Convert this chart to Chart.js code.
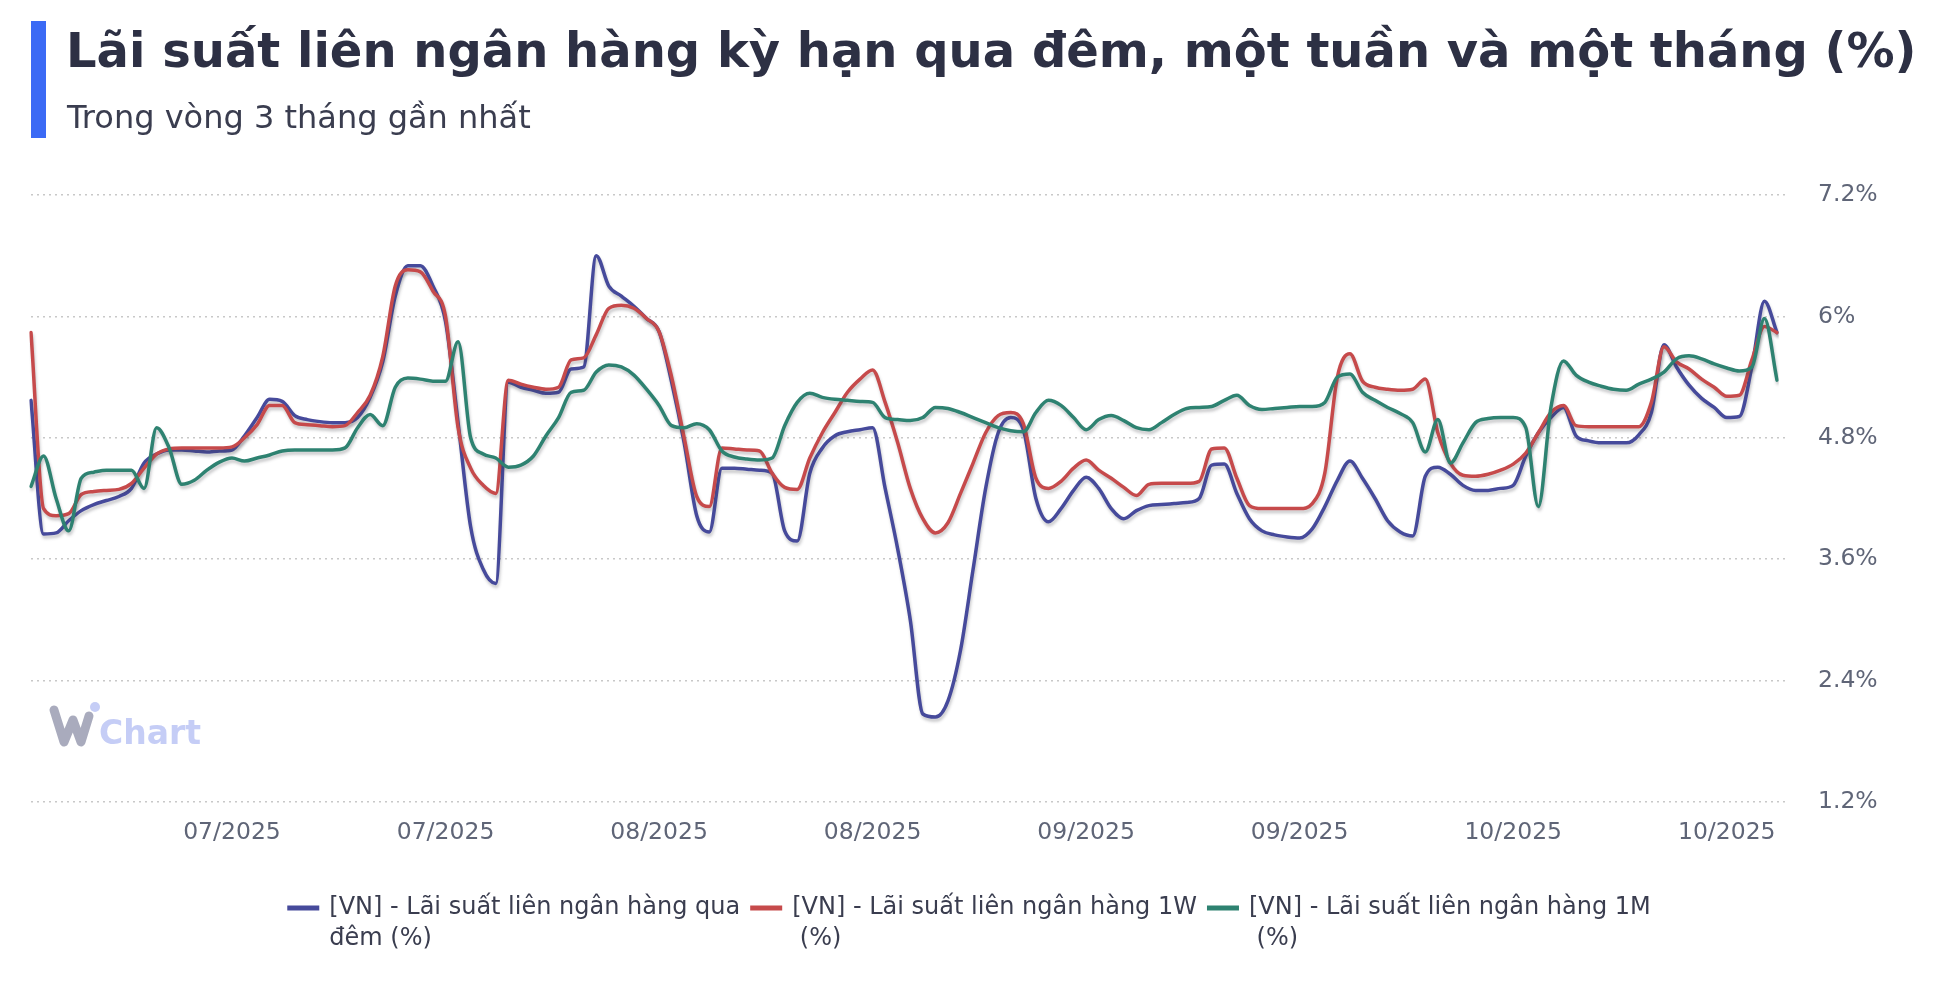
<!DOCTYPE html>
<html>
<head>
  <meta charset="utf-8">
  <title>Lãi suất liên ngân hàng</title>
  <script src="https://cdn.jsdelivr.net/npm/chart.js@4"></script>
  <style>
    body {
      margin: 0;
      background: #fff;
      font-family: 'DejaVu Sans', sans-serif;
    }
    #wrap { position: relative; width: 1944px; height: 997px; }
    #bar { position: absolute; left: 31px; top: 21px; width: 15px; height: 117px; background: #3b6af5; }
    #title {
      position: absolute; left: 66px; top: 22px;
      font-size: 48px; line-height: 56px; font-weight: bold;
      color: #2d3044; white-space: nowrap;
    }
    #subtitle {
      position: absolute; left: 67px; top: 99px;
      font-size: 32px; line-height: 36px;
      color: #3a3d4f; white-space: nowrap;
    }
    canvas { position: absolute; left: 0; top: 0; }
  </style>
</head>
<body>
<div id="wrap">
  <canvas id="chart" width="1944" height="997"></canvas>
  <div id="bar"></div>
  <div id="title">Lãi suất liên ngân hàng kỳ hạn qua đêm, một tuần và một tháng (%)</div>
  <div id="subtitle">Trong vòng 3 tháng gần nhất</div>
</div>

<script>
  // values (%)
  const overnight = [
    5.17, 3.85, 3.86, 3.98, 4.08, 4.14, 4.18, 4.22, 4.30, 4.55,
    4.64, 4.68, 4.68, 4.67, 4.66, 4.67, 4.68, 4.82, 5.00, 5.18,
    5.16, 5.02, 4.98, 4.96, 4.95, 4.95, 5.00, 5.20, 5.55, 6.20,
    6.50, 6.50, 6.30, 5.95, 4.95, 3.92, 3.50, 3.36, 5.35, 5.30,
    5.27, 5.24, 5.25, 5.48, 5.50, 6.60, 6.30, 6.20, 6.10, 5.98,
    5.85, 5.35, 4.75, 4.03, 3.87, 4.50, 4.50, 4.49, 4.48, 4.45,
    3.88, 3.78, 4.45, 4.70, 4.82, 4.86, 4.88, 4.90, 4.30, 3.70,
    3.00, 2.07, 2.04, 2.20, 2.70, 3.50, 4.30, 4.85, 5.00, 4.88,
    4.20, 3.97, 4.10, 4.28, 4.41, 4.30, 4.10, 4.00, 4.08, 4.13,
    4.14, 4.15, 4.16, 4.20, 4.53, 4.54, 4.25, 4.00, 3.88, 3.84,
    3.82, 3.81, 3.90, 4.12, 4.38, 4.57, 4.40, 4.20, 3.98, 3.87,
    3.83, 4.42, 4.51, 4.44, 4.33, 4.28, 4.28, 4.30, 4.33, 4.62,
    4.85, 5.00, 5.10, 4.82, 4.77, 4.75, 4.75, 4.75, 4.83, 5.05,
    5.72, 5.50, 5.32, 5.19, 5.10, 5.00, 5.01, 5.50, 6.15, 5.84
  ];
  const oneWeek = [
    5.84, 4.10, 4.03, 4.05, 4.24, 4.27, 4.28, 4.29, 4.35, 4.50,
    4.64, 4.69, 4.70, 4.70, 4.70, 4.70, 4.71, 4.80, 4.93, 5.12,
    5.12, 4.95, 4.93, 4.92, 4.91, 4.92, 5.05, 5.22, 5.60, 6.30,
    6.46, 6.44, 6.25, 6.00, 4.90, 4.50, 4.33, 4.25, 5.37, 5.33,
    5.30, 5.28, 5.30, 5.57, 5.59, 5.82, 6.08, 6.11, 6.08, 5.98,
    5.85, 5.40, 4.80, 4.22, 4.12, 4.70, 4.69, 4.68, 4.67, 4.45,
    4.31, 4.29, 4.60, 4.85, 5.05, 5.25, 5.38, 5.47, 5.15, 4.75,
    4.30, 4.00, 3.86, 3.96, 4.25, 4.55, 4.85, 5.02, 5.05, 4.94,
    4.40, 4.30, 4.37, 4.50, 4.58, 4.48, 4.40, 4.31, 4.23, 4.34,
    4.35, 4.35, 4.35, 4.37, 4.69, 4.70, 4.40, 4.13, 4.10, 4.10,
    4.10, 4.10, 4.15, 4.45, 5.40, 5.63, 5.36, 5.30, 5.28, 5.27,
    5.28, 5.38, 4.85, 4.55, 4.43, 4.42, 4.44, 4.48, 4.54, 4.65,
    4.85, 5.05, 5.12, 4.92, 4.91, 4.91, 4.91, 4.91, 4.91, 5.15,
    5.70, 5.55, 5.48, 5.38, 5.30, 5.21, 5.22, 5.57, 5.90, 5.84
  ];
  const oneMonth = [
    4.32, 4.62, 4.20, 3.88, 4.40, 4.46, 4.48, 4.48, 4.48, 4.30,
    4.90, 4.70, 4.34, 4.38, 4.48, 4.56, 4.60, 4.57, 4.60, 4.63,
    4.67, 4.68, 4.68, 4.68, 4.68, 4.70, 4.90, 5.03, 4.92, 5.30,
    5.39, 5.38, 5.36, 5.36, 5.75, 4.80, 4.64, 4.60, 4.51, 4.53,
    4.62, 4.82, 5.00, 5.25, 5.27, 5.45, 5.52, 5.50, 5.42, 5.28,
    5.12, 4.92, 4.90, 4.94, 4.88, 4.67, 4.61, 4.59, 4.58, 4.60,
    4.92, 5.15, 5.24, 5.20, 5.18, 5.17, 5.16, 5.15, 5.00, 4.98,
    4.97, 5.00, 5.10, 5.09, 5.05, 5.00, 4.95, 4.90, 4.87, 4.86,
    5.05, 5.17, 5.12, 5.00, 4.88, 4.98, 5.02, 4.97, 4.90, 4.88,
    4.95, 5.03, 5.09, 5.10, 5.11, 5.17, 5.22, 5.12, 5.08, 5.09,
    5.10, 5.11, 5.11, 5.15, 5.40, 5.43, 5.25, 5.17, 5.10, 5.04,
    4.95, 4.66, 4.98, 4.55, 4.75, 4.95, 4.99, 5.00, 5.00, 4.90,
    4.12, 5.10, 5.56, 5.42, 5.35, 5.31, 5.28, 5.27, 5.33, 5.38,
    5.45, 5.58, 5.61, 5.58, 5.53, 5.49, 5.46, 5.50, 5.98, 5.37
  ];
  const tickLabels = ['07/2025', '07/2025', '08/2025', '08/2025', '09/2025', '09/2025', '10/2025', '10/2025'];
  const firstTick = 16, tickStep = 17;
  const seriesNames = [
    ['[VN] - Lãi suất liên ngân hàng qua', 'đêm (%)'],
    ['[VN] - Lãi suất liên ngân hàng 1W', ' (%)'],
    ['[VN] - Lãi suất liên ngân hàng 1M', ' (%)']
  ];
  const colors = ['#464a9b', '#c64a4b', '#2e8271'];

  const pointIndex = overnight.map((_, i) => i);

  const lineShadow = {
    id: 'lineShadow',
    beforeDatasetsDraw(chart) {
      const c = chart.ctx;
      c.save();
      c.shadowColor = 'rgba(60,60,70,0.28)';
      c.shadowBlur = 3;
      c.shadowOffsetX = 1;
      c.shadowOffsetY = 3;
    },
    afterDatasetsDraw(chart) {
      chart.ctx.restore();
    }
  };

  const watermark = {
    id: 'watermark',
    beforeDraw(chart) {
      const c = chart.ctx;
      c.save();
      c.strokeStyle = '#a9abbd';
      c.lineWidth = 9;
      c.lineCap = 'round';
      c.lineJoin = 'round';
      c.beginPath();
      c.moveTo(54, 710); c.lineTo(64, 742); c.lineTo(73, 720); c.lineTo(81, 742); c.lineTo(89, 716);
      c.stroke();
      c.fillStyle = '#c5cdf6';
      c.beginPath(); c.arc(95, 707, 5, 0, Math.PI * 2); c.fill();
      c.font = 'bold 33px "DejaVu Sans"';
      c.fillText('Chart', 99, 744);
      c.restore();
    }
  };

  // legend with wrapped labels, drawn under the x axis
  const wrapLegend = {
    id: 'wrapLegend',
    afterDraw(chart) {
      const c = chart.ctx;
      c.save();
      c.font = '24px "DejaVu Sans"';
      c.textBaseline = 'middle';
      const items = chart.data.datasets.map(ds => ({
        ds, w: 42 + Math.max(...ds.legendLines.map(t => c.measureText(t).width))
      }));
      const gap = 10;
      const total = items.reduce((s, it) => s + it.w, 0) + gap * (items.length - 1);
      let x = 969 - total / 2;
      const y0 = 908, lh = 31;
      items.forEach(it => {
        c.fillStyle = it.ds.borderColor;
        c.fillRect(x, y0 - 2.5, 32, 5);
        c.fillStyle = '#3a3d4f';
        it.ds.legendLines.forEach((t, j) => c.fillText(t, x + 42, y0 + j * lh));
        x += it.w + gap;
      });
      c.restore();
    }
  };

  Chart.defaults.font.family = '"DejaVu Sans", sans-serif';

  new Chart(document.getElementById('chart'), {
    type: 'line',
    data: {
      labels: pointIndex,
      datasets: [overnight, oneWeek, oneMonth].map((vals, k) => ({
        label: seriesNames[k].join(' '),
        legendLines: seriesNames[k],
        data: vals,
        borderColor: colors[k],
        backgroundColor: colors[k],
        borderWidth: 3.5,
        pointRadius: 0,
        cubicInterpolationMode: 'monotone',
        borderCapStyle: 'round',
        borderJoinStyle: 'round',
        order: 2 - k
      }))
    },
    options: {
      responsive: false,
      animation: false,
      devicePixelRatio: 1,
      layout: { padding: { left: 31, right: 47, top: 195, bottom: 135 } },
      plugins: {
        legend: { display: false },
        tooltip: { enabled: false }
      },
      scales: {
        x: {
          type: 'category',
          offset: false,
          grid: { display: false, drawTicks: false },
          border: { display: false },
          afterFit(s) { s.height = 60; },
          ticks: {
            autoSkip: false,
            maxRotation: 0,
            minRotation: 0,
            padding: 17,
            color: '#5f6577',
            font: { size: 23.5 },
            callback(value, index) {
              const k = index - firstTick;
              if (k < 0 || k % tickStep !== 0) return null;
              return tickLabels[k / tickStep] ?? null;
            }
          }
        },
        y: {
          position: 'right',
          min: 1.2,
          max: 7.2,
          afterFit(s) { s.width = 120; },
          grid: {
            color: '#c8c8c8',
            lineWidth: 1.5,
            drawTicks: true,
            tickLength: 8,
            tickBorderDash: [2, 4]
          },
          border: { display: false, dash: [2, 4] },
          ticks: {
            stepSize: 1.2,
            padding: 33,
            color: '#5f6577',
            font: { size: 23.5 },
            callback: v => `${parseFloat(v.toFixed(1))}%`
          }
        }
      }
    },
    plugins: [watermark, lineShadow, wrapLegend]
  });
</script>
</body>
</html>
